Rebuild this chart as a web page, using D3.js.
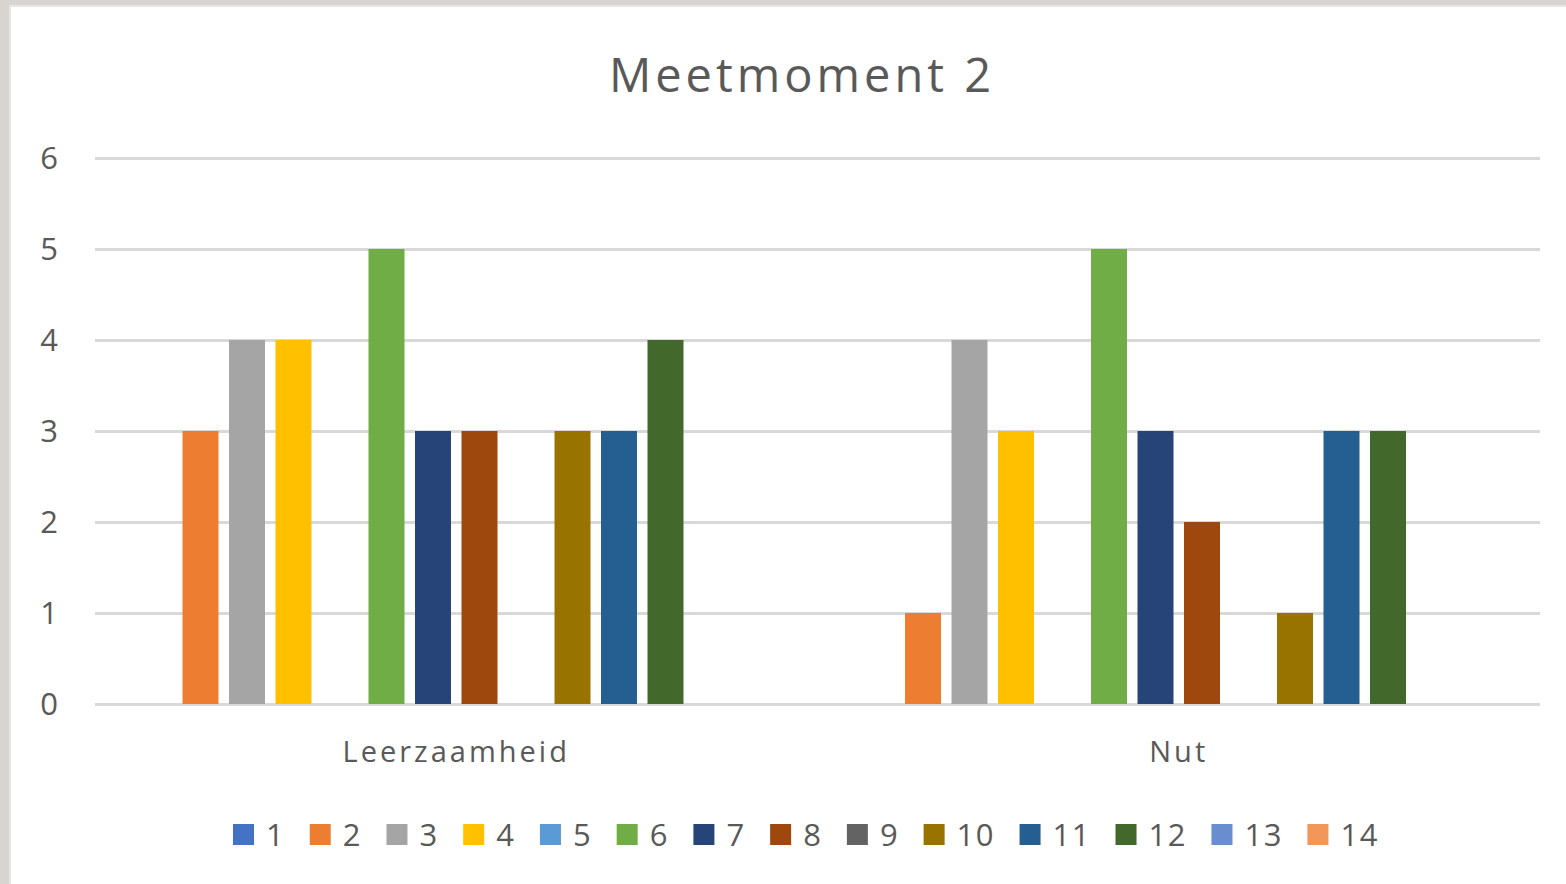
<!DOCTYPE html>
<html><head><meta charset="utf-8">
<script src="https://cdn.jsdelivr.net/npm/d3@7"></script>
<style>
html,body{margin:0;padding:0;background:#fff;}
svg{display:block;}
text{font-family:"Open Sans","Noto Sans",sans-serif;fill:#595959;}
</style></head>
<body>
<svg id="chart" width="1566" height="884"></svg>
<script>
(function(){
const title = "Meetmoment 2";
const categories = ["Leerzaamheid", "Nut"];
const seriesNames = ["1","2","3","4","5","6","7","8","9","10","11","12","13","14"];
const leerzaamheidValues = [0,3,4,4,0,5,3,3,0,3,3,4,0,0];
const nutValues = [0,1,4,3,0,5,3,2,0,1,3,3,0,0];
const yTicks = [0,1,2,3,4,5,6];
const seriesColors = ["#4472C4","#ED7D31","#A5A5A5","#FFC000","#5B9BD5","#70AD47","#264478","#9E480E","#636363","#997300","#255E91","#43682B","#698ED0","#F1975A"];

const valuesByCategory = [leerzaamheidValues, nutValues];
const data = categories.map((c, i) => ({category: c, values: seriesNames.map((s, j) => ({series: s, value: valuesByCategory[i][j], idx: j}))}));

const svg = d3.select("#chart");
const W = 1566, H = 884;
svg.append("rect").attr("x",0).attr("y",0).attr("width",W).attr("height",H).attr("fill","#d8d4cf");
svg.append("rect").attr("x",9).attr("y",5).attr("width",W-9).attr("height",H-5).attr("fill","#e6e6e6");
svg.append("rect").attr("x",11).attr("y",7).attr("width",W-11).attr("height",H-7).attr("fill","#ffffff");

const mLeft = 95, mRight = 1540, mTop = 158, mBottom = 704;
const y = d3.scaleLinear().domain([0,6]).range([mBottom, mTop]);
const x0 = d3.scaleBand().domain(categories).range([mLeft, mRight]).padding(0);
const outerPad = 41;
const x1 = d3.scaleBand().domain(seriesNames).range([outerPad, x0.bandwidth()-outerPad]).paddingInner(0.226).paddingOuter(0);

svg.append("text").attr("x", 802).attr("y", 92).attr("text-anchor","middle")
  .style("font-size","47px").style("letter-spacing","4px").text(title);

const yAxis = d3.axisLeft(y).tickValues(yTicks).tickSize(-(mRight-mLeft)).tickPadding(0).tickFormat(d3.format("d"));
const gAxis = svg.append("g").attr("transform", `translate(${mLeft},0)`).call(yAxis);
gAxis.select(".domain").remove();
gAxis.selectAll(".tick line").attr("stroke","#d9d9d9").attr("stroke-width",3);
gAxis.selectAll(".tick text").attr("x",-37).attr("dy","0.34em").style("font-size","31px").attr("fill","#595959");

const gCat = svg.append("g").selectAll("g").data(data).join("g")
  .attr("transform", d => `translate(${x0(d.category)},0)`);
gCat.selectAll("rect").data(d => d.values).join("rect")
  .attr("x", d => x1(d.series))
  .attr("width", x1.bandwidth())
  .attr("y", d => y(d.value))
  .attr("height", d => y(0) - y(d.value))
  .attr("fill", d => seriesColors[d.idx]);

const xAxis = d3.axisBottom(x0).tickSize(0).tickPadding(0);
const gx = svg.append("g").attr("transform", `translate(0,${mBottom})`).call(xAxis);
gx.select(".domain").remove();
gx.selectAll(".tick text").attr("y", 48).attr("dy","0.34em").style("font-size","29px")
  .style("letter-spacing","3px").attr("fill","#595959");

const legend = svg.append("g");
let lx = 233;
const ly = 835;
seriesNames.forEach((s, i) => {
  const g = legend.append("g");
  g.append("rect").attr("x", lx).attr("y", ly-11).attr("width", 21).attr("height", 21).attr("fill", seriesColors[i]);
  const t = g.append("text").attr("x", lx+33).attr("y", ly).attr("dy","0.35em").style("font-size","31px")
    .style("letter-spacing","1.5px").text(s);
  const w = t.node().getComputedTextLength();
  lx += 33 + w + 24.5;
});
})();
</script>
</body></html>
